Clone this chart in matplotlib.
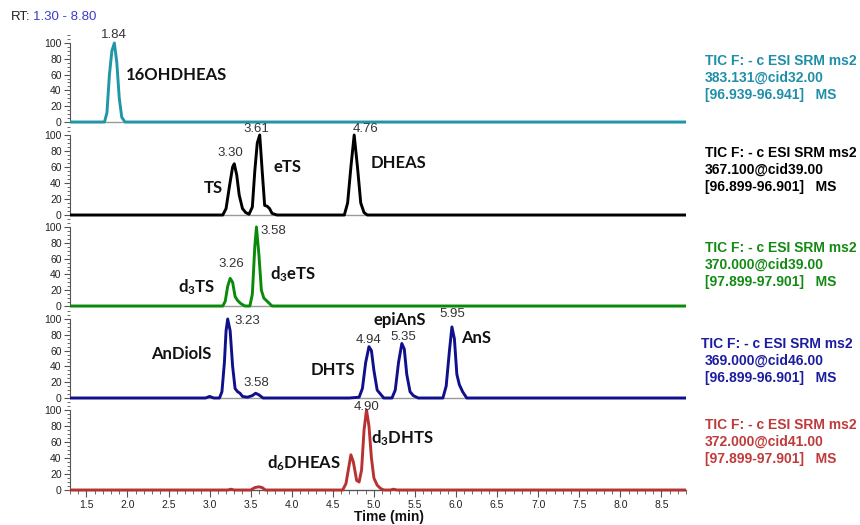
import matplotlib
matplotlib.use("Agg")
import matplotlib.pyplot as plt
from matplotlib.ticker import MultipleLocator

plt.rcParams['font.family'] = ['Liberation Sans', 'DejaVu Sans']
plt.rcParams['mathtext.fontset'] = 'custom'
plt.rcParams['mathtext.rm'] = 'Lato:bold'
plt.rcParams['mathtext.it'] = 'Lato:bold'
plt.rcParams['mathtext.bf'] = 'Lato:bold'

# ---------------- data ----------------
t1 = [1.30, 1.72, 1.75, 1.78, 1.81, 1.84, 1.87, 1.90, 1.93, 1.97, 8.80]
i1 = [0, 0, 12, 60, 90, 100, 75, 30, 6, 0, 0]

t2 = [1.30, 3.16, 3.20, 3.24, 3.28, 3.30, 3.33, 3.36, 3.40, 3.44, 3.48, 3.52, 3.55, 3.58, 3.61,
      3.64, 3.67, 3.70, 3.73, 3.76, 3.82, 4.64, 4.68, 4.72, 4.76, 4.80, 4.84, 4.88, 4.92, 8.80]
i2 = [0, 0, 8, 35, 60, 64, 50, 25, 8, 3, 1, 10, 55, 90, 100,
      55, 12, 11, 8, 2, 0, 0, 15, 60, 100, 60, 15, 3, 0, 0]

t3 = [1.30, 3.16, 3.19, 3.22, 3.25, 3.28, 3.31, 3.34, 3.38, 3.43, 3.49, 3.52, 3.55, 3.57, 3.60,
      3.63, 3.66, 3.70, 3.76, 8.80]
i3 = [0, 0, 6, 25, 35, 30, 12, 7, 3, 0, 0, 15, 75, 100, 65, 20, 10, 6, 0, 0]

t4 = [1.30, 2.95, 3.00, 3.05, 3.12, 3.15, 3.18, 3.20, 3.22, 3.25,
      3.28, 3.31, 3.34, 3.37, 3.40, 3.46, 3.52, 3.56, 3.60, 3.65,
      4.70, 4.82, 4.86, 4.90, 4.94, 4.97, 5.00, 5.04, 5.08, 5.12,
      5.22, 5.26, 5.30, 5.34, 5.37, 5.40, 5.44, 5.48, 5.54, 5.84,
      5.88, 5.92, 5.95, 5.98, 6.01, 6.04, 6.08, 6.13, 8.80]
i4 = [0, 0, 2, 0, 0, 8, 45, 85, 100, 85,
      40, 12, 8, 6, 2, 1, 3, 6, 4, 0,
      0, 1, 12, 45, 65, 60, 35, 10, 5, 0,
      0, 10, 45, 69, 62, 30, 8, 3, 0, 0,
      15, 60, 90, 75, 30, 17, 8, 0, 0]

t5 = [1.30, 3.22, 3.26, 3.30, 3.50, 3.55, 3.60, 3.64, 3.68, 4.62,
      4.66, 4.70, 4.72, 4.75, 4.79, 4.82, 4.85, 4.88, 4.91, 4.94,
      4.97, 5.00, 5.04, 5.08, 5.12, 5.20, 5.24, 5.28, 8.80]
i5 = [0, 0, 1, 0, 0, 3, 4, 3, 0, 0,
      8, 32, 44, 35, 12, 10, 25, 75, 100, 80,
      40, 15, 6, 2, 0, 0, 1, 0, 0]

# peak RT annotations (text, x, y) per panel
rt1 = [("1.84", 1.84, 110)]
rt2 = [("3.30", 3.25, 77), ("3.61", 3.57, 108), ("4.76", 4.90, 108)]
rt3 = [("3.26", 3.26, 53), ("3.58", 3.78, 95)]
rt4 = [("3.23", 3.46, 97), ("3.58", 3.57, 19), ("4.94", 4.94, 73), ("5.35", 5.36, 77), ("5.95", 5.95, 106)]
rt5 = [("4.90", 4.91, 104)]

# compound names (text, x, y)
nm1 = [("16OHDHEAS", 2.60, 59)]
nm2 = [("TS", 3.05, 34), ("eTS", 3.95, 60), ("DHEAS", 5.30, 65)]
nm3 = [("d$_3$TS", 2.84, 24), ("d$_3$eTS", 4.02, 40)]
nm4 = [("AnDiolS", 2.66, 56), ("DHTS", 4.50, 35), ("epiAnS", 5.31, 99), ("AnS", 6.25, 76)]
nm5 = [("d$_6$DHEAS", 4.15, 34), ("d$_3$DHTS", 5.35, 65)]

info1 = ["TIC F: - c ESI SRM ms2", "383.131@cid32.00", "[96.939-96.941]   MS"]
info2 = ["TIC F: - c ESI SRM ms2", "367.100@cid39.00", "[96.899-96.901]   MS"]
info3 = ["TIC F: - c ESI SRM ms2", "370.000@cid39.00", "[97.899-97.901]   MS"]
info4 = ["TIC F: - c ESI SRM ms2", "369.000@cid46.00", "[96.899-96.901]   MS"]
info5 = ["TIC F: - c ESI SRM ms2", "372.000@cid41.00", "[97.899-97.901]   MS"]

x_ticks = [1.5, 2.0, 2.5, 3.0, 3.5, 4.0, 4.5, 5.0, 5.5, 6.0, 6.5, 7.0, 7.5, 8.0, 8.5]
y_ticks = [0, 20, 40, 60, 80, 100]

# ---------------- layout ----------------
W, H = 860, 525
fig = plt.figure(figsize=(W / 100, H / 100), dpi=100)

panels = [
    (t1, i1, rt1, nm1, info1, '#1f97a8', '#1f8fa8', (43, 122), 61),
    (t2, i2, rt2, nm2, info2, '#000000', '#000000', (135, 215), 153),
    (t3, i3, rt3, nm3, info3, '#0a8a0a', '#138a13', (227, 306), 248),
    (t4, i4, rt4, nm4, info4, '#10108c', '#1c1ca0', (319, 398), 344),
    (t5, i5, rt5, nm5, info5, '#b83232', '#c03a3a', (410, 490), 425),
]

YLO, YHI = -3, 112
xl, xr = 70, 686
for k, (tt, ii, rts, nms, info, col, tcol, (p100, p0), ytxt) in enumerate(panels):
    s = (p0 - p100) / 100.0
    bot = p0 + (-YLO) * s
    top = p100 - (YHI - 100) * s
    ax = fig.add_axes([xl / W, 1 - bot / H, (xr - xl) / W, (bot - top) / H])
    ax.set_xlim(1.30, 8.80)
    ax.set_ylim(YLO, YHI)
    ax.patch.set_alpha(0)
    ax.axhline(0, color='#9a9a9a', lw=1.0, zorder=1)
    ax.plot(tt, ii, color=col, lw=2.1, zorder=3, solid_joinstyle='round')
    for sp in ['top', 'right']:
        ax.spines[sp].set_visible(False)
    ax.spines['left'].set_bounds(0, 100)
    ax.spines['left'].set_color('#555555')
    ax.set_yticks(y_ticks)
    ax.yaxis.set_minor_locator(MultipleLocator(5))
    ax.tick_params(axis='y', which='major', labelsize=7.5, length=4, color='#555555',
                   labelcolor='#222222', pad=2)
    ax.tick_params(axis='y', which='minor', length=2.5, color='#555555')
    if k < 4:
        ax.spines['bottom'].set_visible(False)
        ax.set_xticks([])
        ax.tick_params(axis='x', which='both', bottom=False, labelbottom=False)
    else:
        ax.spines['bottom'].set_position(('data', 0))
        ax.spines['bottom'].set_color('#555555')
        ax.set_xticks(x_ticks)
        ax.xaxis.set_minor_locator(MultipleLocator(0.1))
        ax.tick_params(axis='x', which='major', labelsize=7.5, length=5, color='#555555',
                       labelcolor='#222222', pad=2)
        ax.tick_params(axis='x', which='minor', length=3, color='#555555')
    for (txt, x, y) in rts:
        ax.text(x, y, txt, fontsize=9.5, color='#333333', ha='center', va='center')
    for (txt, x, y) in nms:
        ax.text(x, y, txt, fontsize=12, family='Lato', fontweight='bold',
                color='#111111', ha='center', va='center')
    xoff = 701 if k == 3 else 705
    for j, line in enumerate(info):
        fig.text((705 if j > 0 else xoff) / W, 1 - (ytxt + 17 * j) / H, line,
                 fontsize=10, fontweight='bold', color=tcol, ha='left', va='center')

fig.text(389 / W, 1 - 524 / H, "Time (min)", fontsize=10, fontweight='bold',
         color='#111111', ha='center', va='bottom')
fig.text(11 / W, 1 - 17 / H, "RT:", fontsize=9.5, color='#222222', ha='left', va='center')
fig.text(33 / W, 1 - 17 / H, "1.30 - 8.80", fontsize=9.5, color='#3c3cc8', ha='left', va='center')

fig.savefig("out.png", dpi=100)
